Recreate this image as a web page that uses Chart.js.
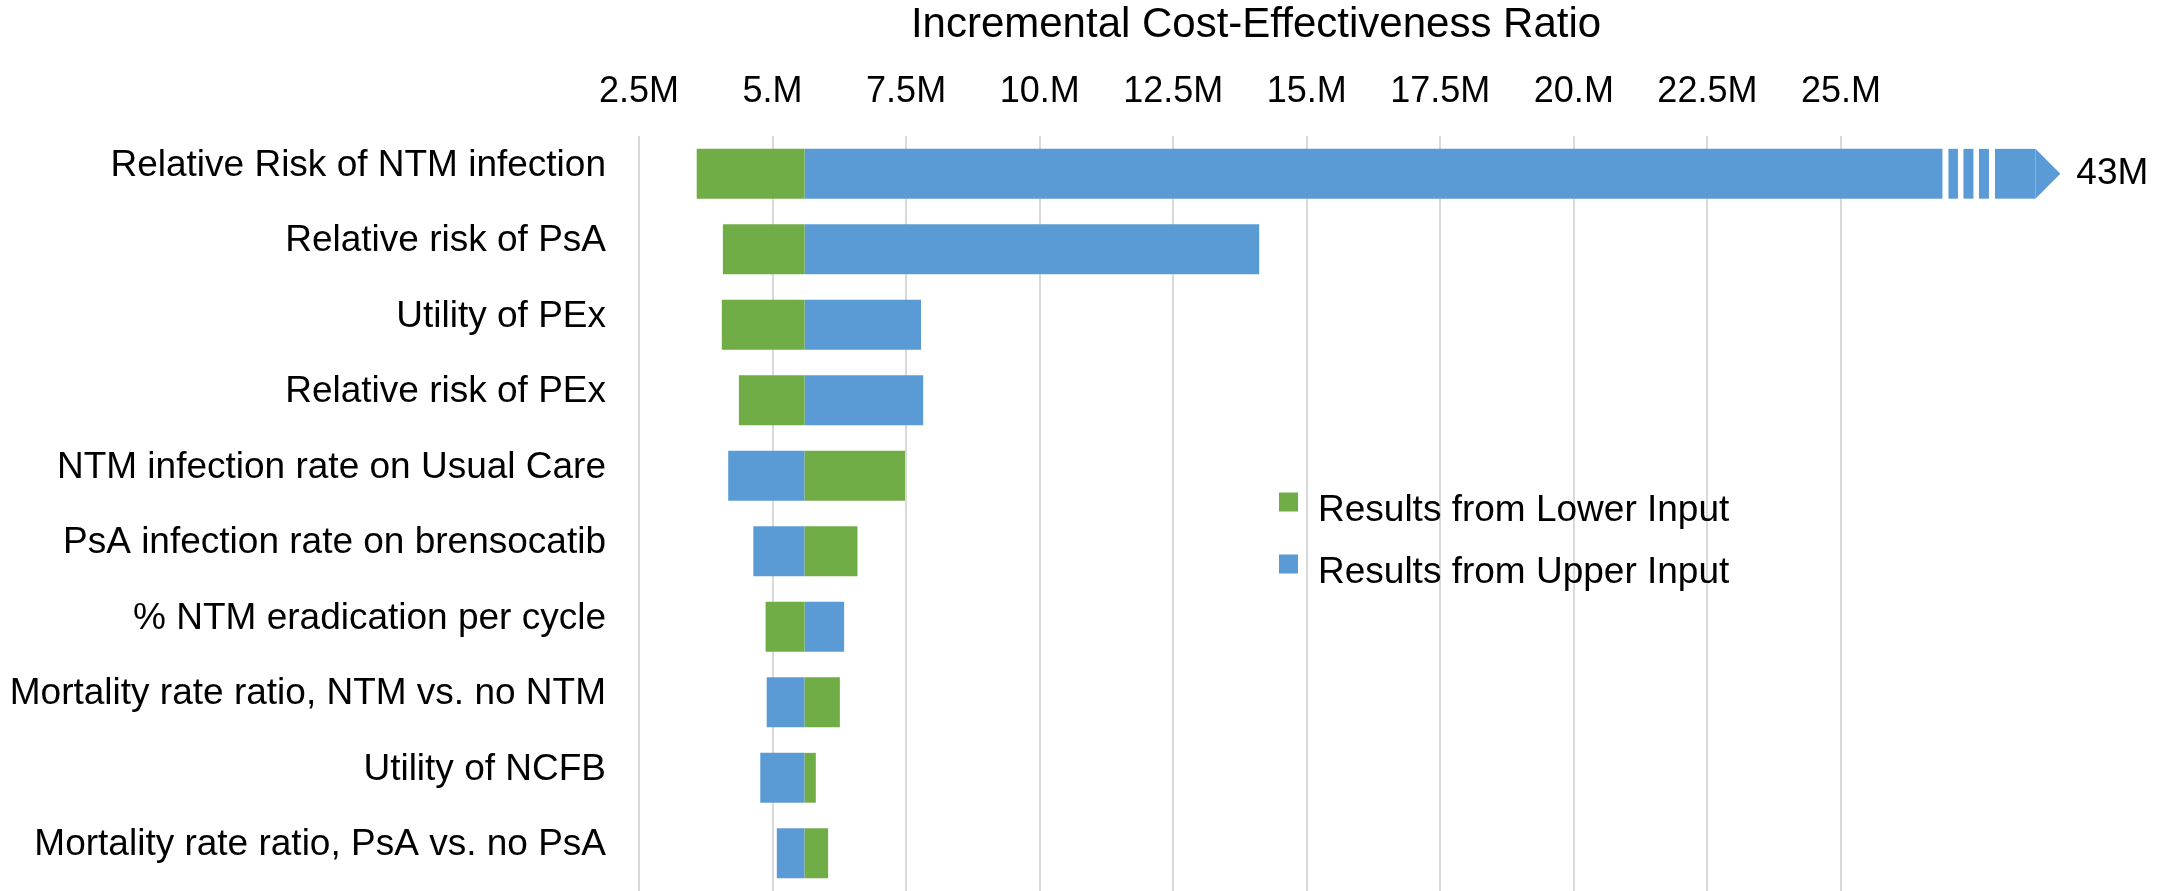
<!DOCTYPE html>
<html>
<head>
<meta charset="utf-8">
<script src="https://cdn.jsdelivr.net/npm/chart.js@4.4.0/dist/chart.umd.min.js"></script>
<style>
  html, body { margin: 0; padding: 0; background: #fff; }
  #wrap { width: 2177px; height: 891px; position: relative; }
</style>
</head>
<body>
<div id="wrap"><canvas id="tornado"></canvas></div>
<script>
var categories = [
    "Relative Risk of NTM infection",
    "Relative risk of PsA",
    "Utility of PEx",
    "Relative risk of PEx",
    "NTM infection rate on Usual Care",
    "PsA infection rate on brensocatib",
    "% NTM eradication per cycle",
    "Mortality rate ratio, NTM vs. no NTM",
    "Utility of NCFB",
    "Mortality rate ratio, PsA vs. no PsA"
];

// ICER values, in millions
var baseIcer = 5.6;
var lowerInput = [3.58, 4.07, 4.05, 4.37, 7.48, 6.59, 4.87, 6.26, 5.81, 6.04];
var upperInput = [43, 14.11, 7.78, 7.82, 4.17, 4.64, 6.34, 4.89, 4.77, 5.08];
var seriesNames = ["Results from Lower Input", "Results from Upper Input"];
var seriesColors = ["#70AD47", "#5B9BD5"];

var tickValues = [2.5, 5, 7.5, 10, 12.5, 15, 17.5, 20, 22.5, 25];
var tickLabels = ["2.5M", "5.M", "7.5M", "10.M", "12.5M", "15.M", "17.5M", "20.M", "22.5M", "25.M"];

// bars longer than this get cut, with a break and an arrow
var axisBreak = 26.9;

Chart.defaults.font.family = "'Liberation Sans', Arial, sans-serif";
Chart.defaults.color = "#000";

function floating(values) {
    return values.map(function (v) { return [baseIcer, Math.min(v, axisBreak)]; });
}

var allValues = [lowerInput, upperInput];

var breakPlugin = {
    id: 'breakArrow',
    afterDatasetsDraw: function (chart) {
        var ctx = chart.ctx;
        chart.data.datasets.forEach(function (ds, i) {
            var meta = chart.getDatasetMeta(i);
            meta.data.forEach(function (bar, j) {
                var v = allValues[i][j];
                if (v <= axisBreak) return;
                var p = bar.getProps(['x', 'y', 'height'], true);
                var top = p.y - p.height / 2, h = p.height, x0 = p.x;
                ctx.save();
                ctx.fillStyle = seriesColors[i];
                // stripes after the cut
                [[6, 15.5], [21, 31], [36.5, 46.5], [52.5, 93]].forEach(function (s) {
                    ctx.fillRect(x0 + s[0], top, s[1] - s[0], h);
                });
                // arrow head
                ctx.beginPath();
                ctx.moveTo(x0 + 93, top);
                ctx.lineTo(x0 + 93 + h / 2, p.y);
                ctx.lineTo(x0 + 93, top + h);
                ctx.closePath();
                ctx.fill();
                ctx.fillStyle = '#000';
                ctx.font = "37px 'Liberation Sans', Arial, sans-serif";
                ctx.textBaseline = 'middle';
                ctx.textAlign = 'left';
                ctx.fillText(Math.round(v) + 'M', x0 + 93 + h / 2 + 16, p.y);
                ctx.restore();
            });
        });
    }
};

var legendPlugin = {
    id: 'floatLegend',
    afterDraw: function (chart) {
        var ctx = chart.ctx;
        var a = chart.chartArea;
        var x = a.left + 640, y = a.top + 366;
        ctx.save();
        ctx.font = "37px 'Liberation Sans', Arial, sans-serif";
        ctx.textBaseline = 'middle';
        ctx.textAlign = 'left';
        seriesNames.forEach(function (name, i) {
            var cy = y + i * 62;
            ctx.fillStyle = seriesColors[i];
            ctx.fillRect(x, cy - 9.5, 19, 19);
            ctx.fillStyle = '#000';
            ctx.fillText(name, x + 39, cy + 9);
        });
        ctx.restore();
    }
};

var ctx = document.getElementById('tornado').getContext('2d');
var tornado = new Chart(ctx, {
    type: 'bar',
    data: {
        labels: categories,
        datasets: [{
            label: seriesNames[0],
            data: floating(lowerInput),
            backgroundColor: seriesColors[0],
            grouped: false,
            clip: false
        }, {
            label: seriesNames[1],
            data: floating(upperInput),
            backgroundColor: seriesColors[1],
            grouped: false,
            clip: false
        }]
    },
    options: {
        indexAxis: 'y',
        responsive: true,
        maintainAspectRatio: false,
        animation: false,
        barPercentage: 0.66,
        categoryPercentage: 1.0,
        layout: { padding: { left: 0, right: 304, top: 0, bottom: -3 } },
        plugins: {
            legend: { display: false },
            tooltip: { enabled: false }
        },
        scales: {
            x: {
                position: 'top',
                min: 2.5,
                max: 25.6,
                afterBuildTicks: function (s) {
                    s.ticks = tickValues.map(function (v) { return { value: v }; });
                },
                afterFit: function (s) { s.height = 136; },
                ticks: {
                    callback: function (v, i) { return tickLabels[i]; },
                    font: { size: 36 },
                    padding: 22,
                    maxRotation: 0,
                    autoSkip: false
                },
                grid: { color: '#d9d9d9', lineWidth: 2, drawTicks: false },
                border: { display: false },
                title: {
                    display: true,
                    text: 'Incremental Cost-Effectiveness Ratio',
                    font: { size: 42 },
                    padding: { top: 0, bottom: 0 }
                }
            },
            y: {
                afterFit: function (s) {
                    s.width = 639;
                    s.paddingTop = 0;
                    s.paddingBottom = 0;
                },
                ticks: { font: { size: 37 }, padding: 25, labelOffset: -8, autoSkip: false },
                grid: { display: false },
                border: { display: false }
            }
        }
    },
    plugins: [breakPlugin, legendPlugin]
});
</script>
</body>
</html>
